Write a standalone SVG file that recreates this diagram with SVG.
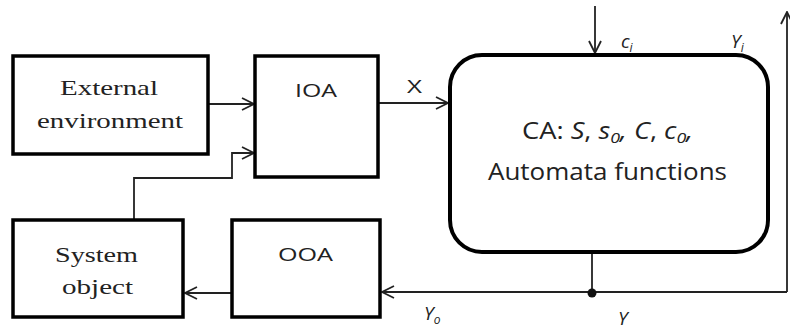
<svg xmlns="http://www.w3.org/2000/svg" width="790" height="333" viewBox="0 0 790 333">
<style>
.box{fill:#fff;stroke:#000;stroke-width:3.5}
.ca{fill:#fff;stroke:#000;stroke-width:4}
.ln{fill:none;stroke:#222;stroke-width:1.8}
.serif{font-family:"Liberation Serif","Times New Roman",serif;font-size:21px;fill:#222}
.sans{font-family:"Open Sans","Liberation Sans",sans-serif;font-size:19px;fill:#222}
.big{font-size:23px}
.lab{font-family:"Open Sans","Liberation Sans",sans-serif;font-size:19px;font-style:italic;fill:#222}
.sub{font-size:12px}
.sub2{font-size:15px}
</style>
<defs>
<marker id="arr" viewBox="0 0 14 14" refX="13" refY="7" markerWidth="14" markerHeight="14" markerUnits="userSpaceOnUse" orient="auto">
<path d="M1,1 L13,7 L1,13" fill="none" stroke="#222" stroke-width="1.8"/>
</marker>
</defs>
<g id="connectors">
<line class="ln" x1="208" y1="104" x2="254" y2="104" marker-end="url(#arr)"/>
<polyline class="ln" points="134,220 134,178 232,178 232,153 254,153" marker-end="url(#arr)"/>
<line class="ln" x1="378" y1="103" x2="448" y2="103" marker-end="url(#arr)"/>
<line class="ln" x1="595" y1="6" x2="595" y2="53" marker-end="url(#arr)"/>
<line class="ln" x1="592" y1="252" x2="592" y2="292"/>
<polyline class="ln" points="787,292 787,12" marker-end="url(#arr)"/>
<line class="ln" x1="787" y1="292" x2="382" y2="292" marker-end="url(#arr)"/>
<line class="ln" x1="232" y1="293" x2="185" y2="293" marker-end="url(#arr)"/>
<circle cx="592" cy="293" r="4.5" fill="#111"/>
<text class="sans" x="407" y="93" textLength="15" lengthAdjust="spacingAndGlyphs">X</text>
<text class="lab" x="621" y="48">c<tspan class="sub" dy="4">i</tspan></text>
<text class="lab" x="731" y="48">Y<tspan class="sub" dy="4">i</tspan></text>
<text class="lab" x="424" y="320">Y<tspan class="sub" dy="4">o</tspan></text>
<text class="lab" x="618" y="325">Y</text>
</g>
<g id="external">
<rect class="box" x="13" y="56" width="195" height="98"/>
<text class="serif" x="60" y="95" textLength="98" lengthAdjust="spacingAndGlyphs">External</text>
<text class="serif" x="37" y="128" textLength="146" lengthAdjust="spacingAndGlyphs">environment</text>
</g>
<g id="ioa">
<rect class="box" x="255" y="56" width="123" height="121"/>
<text class="sans" x="295" y="97" textLength="42" lengthAdjust="spacingAndGlyphs">IOA</text>
</g>
<g id="system">
<rect class="box" x="13" y="220" width="170" height="97"/>
<text class="serif" x="55" y="262" textLength="83" lengthAdjust="spacingAndGlyphs">System</text>
<text class="serif" x="62" y="294" textLength="71" lengthAdjust="spacingAndGlyphs">object</text>
</g>
<g id="ooa">
<rect class="box" x="232" y="220" width="148" height="97"/>
<text class="sans" x="278" y="261" textLength="55" lengthAdjust="spacingAndGlyphs">OOA</text>
</g>
<g id="ca">
<rect class="ca" x="450" y="55" width="318" height="197" rx="32" ry="32"/>
<text class="sans big" x="522" y="139" textLength="171" lengthAdjust="spacingAndGlyphs">CA: <tspan font-style="italic">S</tspan>, <tspan font-style="italic">s<tspan class="sub2" dy="4">0</tspan><tspan dy="-4">,</tspan> C</tspan>, <tspan font-style="italic">c<tspan class="sub2" dy="4">0</tspan><tspan dy="-4">,</tspan></tspan></text>
<text class="sans big" x="488" y="180" textLength="239" lengthAdjust="spacingAndGlyphs">Automata functions</text>
</g>
</svg>
